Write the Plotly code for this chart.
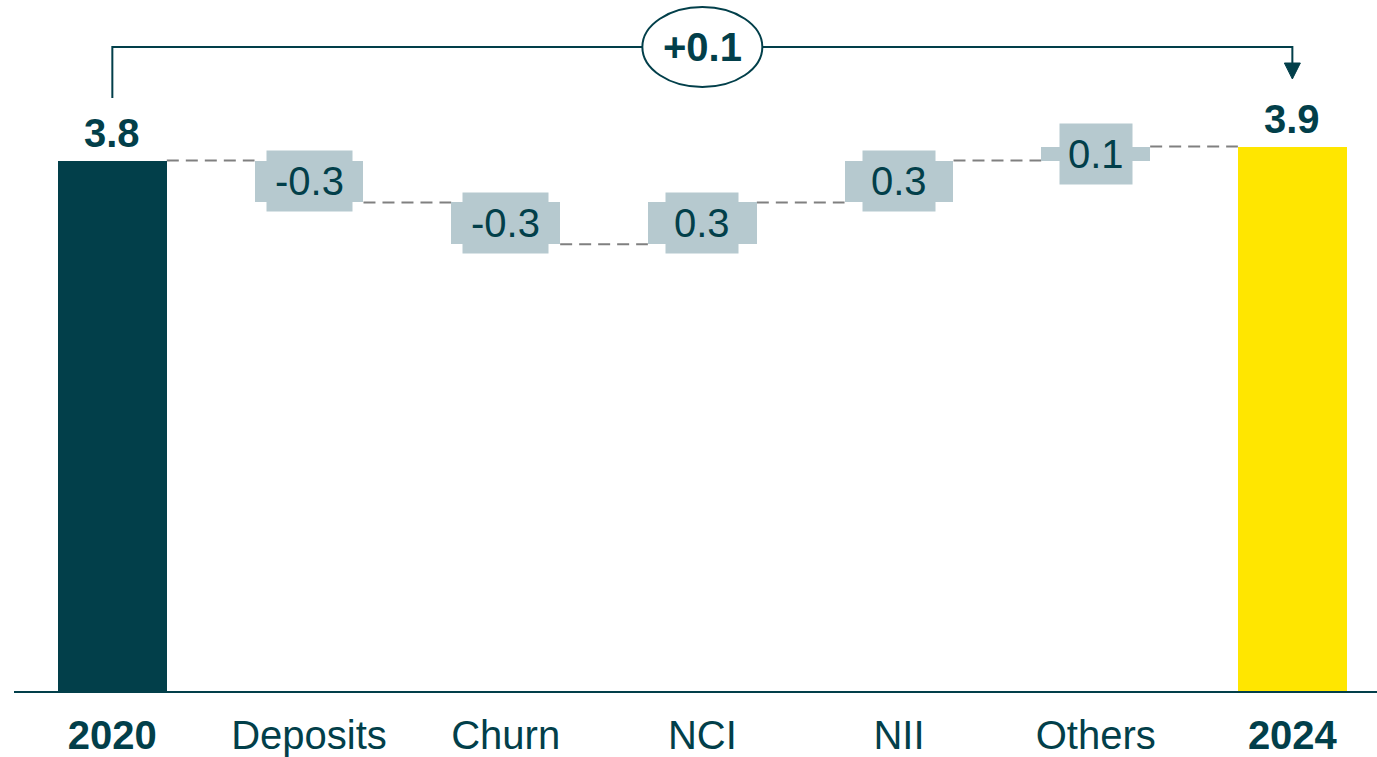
import plotly.graph_objects as go

# Bridge from 2020 to 2024
categories = ["2020", "Deposits", "Churn", "NCI", "NII", "Others", "2024"]
values = [3.8, -0.3, -0.3, 0.3, 0.3, 0.1, 3.9]
measures = ["absolute", "relative", "relative", "relative", "relative", "relative", "total"]
tick_labels = ["<b>2020</b>", "Deposits", "Churn", "NCI", "NII", "Others", "<b>2024</b>"]

DARK = "#023F4A"
YELLOW = "#FFE600"
STEP = "#B6C9CF"
GREY = "#808080"
FONT = "Liberation Sans, Arial, sans-serif"

W, H = 1377, 757
M_L, M_R, M_T, M_B = 14, 0, 0, 66
PLOT_H = H - M_T - M_B
Y_MAX = 4.95
PX = PLOT_H / Y_MAX          # pixels per unit
BAR_W = 0.554
SLOT_PX = 196.67             # pixel width of one category slot


def px_to_y(px_from_top):
    return (PLOT_H - px_from_top) / PX


# running levels -> bar bases and heights
bases, heights, levels, colors = [], [], [], []
level = 0.0
for v, m in zip(values, measures):
    if m == "absolute":
        base, h, level = 0.0, v, v
        colors.append(DARK)
    elif m == "total":
        base, h = 0.0, v
        level = v
        colors.append(YELLOW)
    else:
        base = level if v >= 0 else level + v
        h = abs(v)
        level += v
        colors.append(STEP)
    bases.append(base)
    heights.append(h)
    levels.append(level)

idx = list(range(len(categories)))

fig = go.Figure(go.Bar(
    x=idx, y=heights, base=bases, width=BAR_W,
    marker=dict(color=colors, line=dict(width=0)),
    hoverinfo="skip",
))

shapes, annotations = [], []

# dashed connectors between consecutive bars
for i in idx[:-1]:
    shapes.append(dict(
        type="line", xref="x", yref="y",
        x0=i + BAR_W / 2, x1=i + 1 - BAR_W / 2, y0=levels[i], y1=levels[i],
        line=dict(color=GREY, width=2, dash="12px,7px"), layer="below",
    ))

# value boxes on the step bars, bold totals above the end bars
for i, v, m in zip(idx, values, measures):
    if m == "relative":
        mid = bases[i] + heights[i] / 2
        annotations.append(dict(
            x=i, y=mid, xref="x", yref="y", showarrow=False,
            text=f"{v:.1f}", font=dict(family=FONT, size=40, color=DARK),
            bgcolor=STEP, borderpad=8, xanchor="center", yanchor="middle",
        ))
    else:
        annotations.append(dict(
            x=i, y=bases[i] + heights[i], xref="x", yref="y", showarrow=False,
            text=f"<b>{v:.1f}</b>", font=dict(family=FONT, size=40, color=DARK),
            xanchor="center", yanchor="bottom", yshift=4,
        ))

# overall change bracket from first to last bar
first, last = idx[0], idx[-1]
delta = values[last] - values[first]
y_bracket = px_to_y(47)
y_leg = px_to_y(98)
y_tip = px_to_y(79)
shapes.append(dict(
    type="path", xref="x", yref="y",
    path=f"M {first},{y_leg} L {first},{y_bracket} L {last},{y_bracket} L {last},{y_tip + 14 / PX}",
    line=dict(color=DARK, width=2),
))
shapes.append(dict(
    type="path", xref="x", yref="y", xsizemode="pixel", ysizemode="pixel",
    xanchor=last, yanchor=y_tip,
    path="M -8,16 L 8,16 L 0,0 Z",
    fillcolor=DARK, line=dict(color=DARK, width=1),
))
shapes.append(dict(
    type="circle", xref="x", yref="y", xsizemode="pixel", ysizemode="pixel",
    xanchor=(first + last) / 2, yanchor=y_bracket,
    x0=-60, x1=60, y0=-40, y1=40,
    fillcolor="white", line=dict(color=DARK, width=2),
))
annotations.append(dict(
    x=(first + last) / 2, y=y_bracket, xref="x", yref="y", showarrow=False,
    text=f"<b>{delta:+.1f}</b>", font=dict(family=FONT, size=40, color=DARK),
    xanchor="center", yanchor="middle",
))

fig.update_layout(
    width=W, height=H,
    margin=dict(l=M_L, r=M_R, t=M_T, b=M_B),
    paper_bgcolor="white", plot_bgcolor="white",
    showlegend=False, bargap=0,
    shapes=shapes, annotations=annotations,
    xaxis=dict(
        range=[-0.5, -0.5 + (W - M_L - M_R) / SLOT_PX],
        tickmode="array", tickvals=idx, ticktext=tick_labels,
        tickfont=dict(family=FONT, size=40, color=DARK),
        ticklabelstandoff=8,
        showline=True, linecolor=DARK, linewidth=2,
        showgrid=False, zeroline=False, ticks="",
    ),
    yaxis=dict(range=[0, Y_MAX], visible=False, showgrid=False, zeroline=False),
    font=dict(family=FONT, color=DARK),
)

fig.write_html("out.html")
